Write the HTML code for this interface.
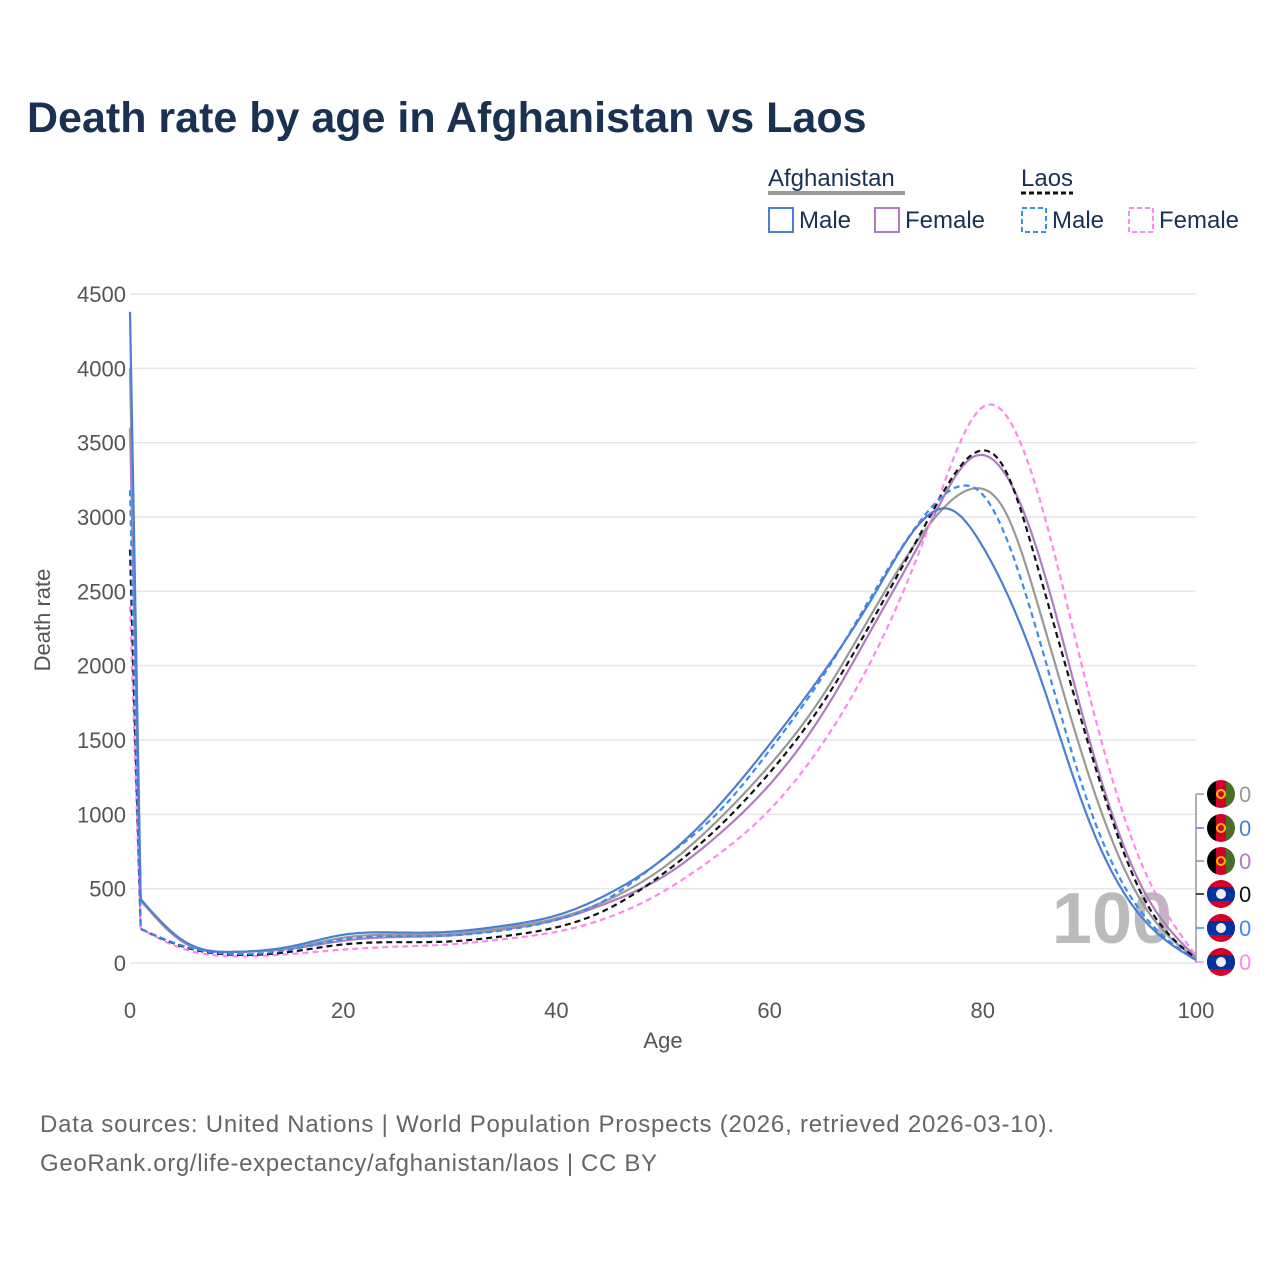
<!DOCTYPE html>
<html><head><meta charset="utf-8">
<style>
body{margin:0;background:#fff;width:1280px;height:1280px;overflow:hidden;font-family:"Liberation Sans",sans-serif}
</style></head>
<body>
<svg width="1280" height="1280" viewBox="0 0 1280 1280">
<text x="27" y="132" font-size="43" font-weight="bold" fill="#1b3152">Death rate by age in Afghanistan vs Laos</text>
<g font-size="24" fill="#1b3152">
<text x="768" y="186">Afghanistan</text>
<line x1="768" y1="193" x2="905" y2="193" stroke="#999" stroke-width="4"/>
<text x="1021" y="186">Laos</text>
<line x1="1021" y1="193" x2="1073" y2="193" stroke="#111" stroke-width="3" stroke-dasharray="5,3"/>
<rect x="769" y="208" width="24" height="24" fill="none" stroke="#4a7fd4" stroke-width="2"/>
<text x="799" y="228">Male</text>
<rect x="875" y="208" width="24" height="24" fill="none" stroke="#b07cc0" stroke-width="2"/>
<text x="905" y="228">Female</text>
<rect x="1022" y="208" width="24" height="24" fill="none" stroke="#3a8cf0" stroke-width="2" stroke-dasharray="5,3"/>
<text x="1052" y="228">Male</text>
<rect x="1129" y="208" width="24" height="24" fill="none" stroke="#ff88ee" stroke-width="2" stroke-dasharray="5,3"/>
<text x="1159" y="228">Female</text>
</g>
<g id="grid"></g>
<g id="yticks" font-size="22" fill="#555" text-anchor="end"></g>
<g id="xticks" font-size="22" fill="#555" text-anchor="middle"></g>
<text x="50" y="620" font-size="22" fill="#555" text-anchor="middle" transform="rotate(-90 50 620)">Death rate</text>
<text x="663" y="1048" font-size="22" fill="#555" text-anchor="middle">Age</text>
<text x="1112" y="943" font-size="72" font-weight="bold" fill="#bbb" text-anchor="middle">100</text>
<g id="lines" fill="none"></g>
<g id="markers"></g>
<text x="40" y="1132" font-size="24" fill="#666" textLength="1014">Data sources: United Nations | World Population Prospects (2026, retrieved 2026-03-10).</text>
<text x="40" y="1171" font-size="24" fill="#666" textLength="617">GeoRank.org/life-expectancy/afghanistan/laos | CC BY</text>
</svg>
<script>
const yTicks=[0,500,1000,1500,2000,2500,3000,3500,4000,4500];
const xTicks=[0,20,40,60,80,100];
const afgTotalAges=[0,1,5,10,15,20,25,30,35,40,45,50,55,60,65,70,75,79,82,85,90,95,100];
const afgTotal=[4000,420,145,75,100,170,190,195,235,300,430,640,950,1330,1800,2400,2950,3190,3050,2450,1250,400,30];
const afgMaleAges=[0,1,5,10,15,20,25,30,35,40,45,50,55,60,65,70,74,77,80,85,90,95,100];
const afgMale=[4380,430,150,75,110,190,205,210,250,320,470,700,1040,1470,1950,2500,2950,3050,2800,2000,950,300,20];
const afgFemaleAges=[0,1,5,10,15,20,25,30,35,40,45,50,55,60,65,70,75,79,82,85,90,95,100];
const afgFemale=[3600,420,140,75,95,150,175,185,225,290,410,580,850,1200,1680,2300,2950,3400,3300,2800,1500,500,40];
const laosTotalAges=[0,1,5,10,15,20,25,30,35,40,45,50,55,60,65,70,75,79,82,85,90,95,100];
const laosTotal=[2780,230,110,55,75,125,140,145,180,240,370,600,900,1280,1750,2350,3000,3420,3330,2700,1450,450,30];
const laosMaleAges=[0,1,5,10,15,20,25,30,35,40,45,50,55,60,65,70,75,78,80,85,90,95,100];
const laosMale=[3180,230,115,60,90,160,180,185,220,290,440,700,1000,1430,1930,2520,3050,3210,3150,2250,1050,330,20];
const laosFemaleAges=[0,1,5,10,15,20,25,30,35,40,45,50,55,60,65,70,75,80,82,85,90,95,100];
const laosFemale=[2400,230,95,45,60,90,110,125,160,210,310,480,720,1030,1480,2100,2950,3740,3700,3200,1800,650,50];
const NS='http://www.w3.org/2000/svg';
const X=a=>130+a*10.66, Y=v=>963-v*0.14867;
const grid=document.getElementById('grid'),yt=document.getElementById('yticks'),xt=document.getElementById('xticks');
yTicks.forEach(t=>{const l=document.createElementNS(NS,'line');l.setAttribute('x1',130);l.setAttribute('x2',1196);l.setAttribute('y1',Y(t));l.setAttribute('y2',Y(t));l.setAttribute('stroke','#e6e6e6');l.setAttribute('stroke-width',1.5);


grid.appendChild(l);
const tx=document.createElementNS(NS,'text');tx.setAttribute('x',126);tx.setAttribute('y',Y(t)+8);tx.textContent=t;


yt.appendChild(tx);});
xTicks.forEach(t=>{const tx=document.createElementNS(NS,'text');tx.setAttribute('x',X(t));tx.setAttribute('y',1018);tx.textContent=t;


xt.appendChild(tx);});
// natural cubic spline for ages>=1, straight line from age 0 to 1
function spline(xs,ys){const n=xs.length,h=[],a=new Array(n).fill(0),b=new Array(n).fill(0),c=new Array(n).fill(0),r=new Array(n).fill(0),M=new Array(n).fill(0);
for(let i=0;i<n-1;i++)h.push(xs[i+1]-xs[i]);
for(let i=1;i<n-1;i++){a[i]=h[i-1];b[i]=2*(h[i-1]+h[i]);c[i]=h[i];r[i]=6*((ys[i+1]-ys[i])/h[i]-(ys[i]-ys[i-1])/h[i-1]);}
for(let i=2;i<n-1;i++){const w=a[i]/b[i-1];b[i]-=w*c[i-1];r[i]-=w*r[i-1];}
for(let i=n-2;i>=1;i--)M[i]=(r[i]-c[i]*M[i+1])/b[i];
return t=>{let i=0;while(i<n-2&&t>xs[i+1])i++;const A=(xs[i+1]-t)/h[i],B=(t-xs[i])/h[i];
return A*ys[i]+B*ys[i+1]+((A*A*A-A)*M[i]+(B*B*B-B)*M[i+1])*h[i]*h[i]/6;};}
function pathFor(ages,vals){const f=spline(ages.slice(1),vals.slice(1));let p='M'+X(ages[0])+','+Y(vals[0]);
for(let t=ages[1];t<=100.001;t+=0.25){p+=' L'+X(t).toFixed(1)+','+Y(Math.max(0,f(t))).toFixed(1);}return p;}
const lines=document.getElementById('lines');
function add(ages,vals,col,dash,name){const p=document.createElementNS(NS,'path');p.setAttribute('d',pathFor(ages,vals));p.setAttribute('stroke',col);p.setAttribute('stroke-width',2.2);p.setAttribute('stroke-linejoin','round');if(dash)p.setAttribute('stroke-dasharray','6,4');


lines.appendChild(p);}
add(afgFemaleAges,afgFemale,'#b07cc0',false,'line-afghanistan-female');
add(afgTotalAges,afgTotal,'#999999',false,'line-afghanistan-total');
add(laosFemaleAges,laosFemale,'#ff88ee',true,'line-laos-female');
add(laosTotalAges,laosTotal,'#111111',true,'line-laos-total');
add(laosMaleAges,laosMale,'#3a8cf0',true,'line-laos-male');
add(afgMaleAges,afgMale,'#4a7fd4',false,'line-afghanistan-male');
const mk=document.getElementById('markers');
const mcols=['#999','#4a7fd4','#b07cc0','#111','#3a8cf0','#ff88ee'];
const mys=[794,828,861,894,928,962];
let s='<line x1="1196" y1="794" x2="1196" y2="963" stroke="#999" stroke-width="1.5"/>';
mys.forEach((y,i)=>{s+=`<line x1="1196" y1="${y}" x2="1204" y2="${y}" stroke="${mcols[i]}" stroke-width="1.5"/>`;
if(i<3){s+=`<clipPath id="c${i}"><circle cx="1221" cy="${y}" r="14"/></clipPath><g clip-path="url(#c${i})"><rect x="1207" y="${y-14}" width="10" height="28" fill="#000"/><rect x="1216" y="${y-14}" width="10" height="28" fill="#d3002a"/><rect x="1226" y="${y-14}" width="10" height="28" fill="#4a6e2a"/></g><circle cx="1221" cy="${y}" r="4" fill="none" stroke="#f5c400" stroke-width="2"/>`;}
else{s+=`<clipPath id="c${i}"><circle cx="1221" cy="${y}" r="14"/></clipPath><g clip-path="url(#c${i})"><rect x="1207" y="${y-14}" width="28" height="28" fill="#d3002a"/><rect x="1207" y="${y-7}" width="28" height="14" fill="#0033a0"/></g><circle cx="1221" cy="${y}" r="5" fill="#eee"/>`;}
s+=`<text x="1239" y="${y+8}" font-size="22" fill="${mcols[i]}">0</text>`;});
mk.innerHTML=s;
</script>
</body></html>
